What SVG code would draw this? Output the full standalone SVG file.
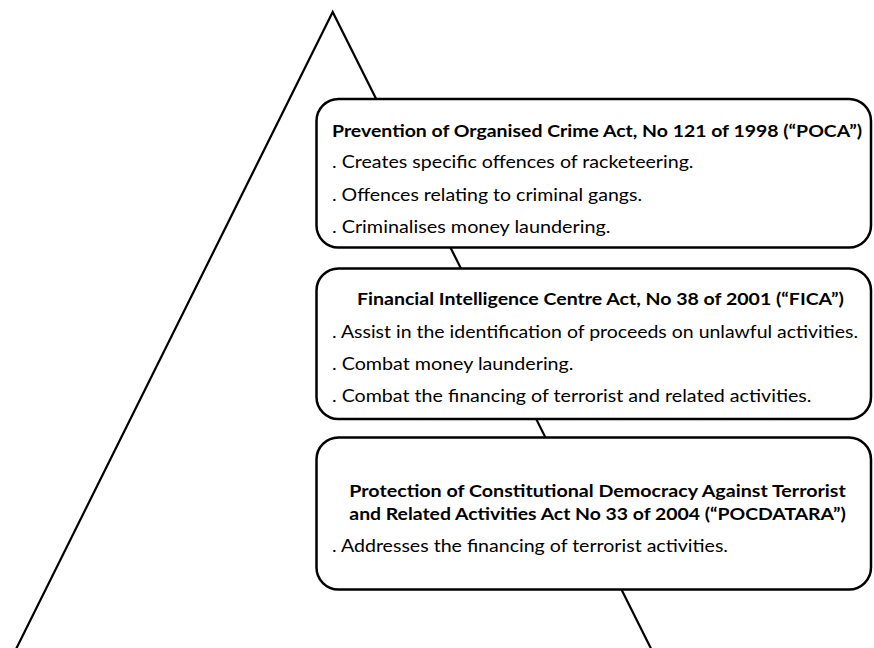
<svg xmlns="http://www.w3.org/2000/svg" width="874" height="648" viewBox="0 0 874 648">
  <style>
    .box { fill: #ffffff; stroke: #000000; stroke-width: 2.5; }
    .tri { fill: none; stroke: #000000; stroke-width: 2.2; stroke-linejoin: miter; }
    text { font-family: Lato, "Liberation Sans", "DejaVu Sans", sans-serif; fill: #000000; }
    .title { font-size: 17px; font-weight: bold; }
    .body { font-size: 17px; }
  </style>
  <rect width="874" height="648" fill="#ffffff"/>
  <g id="pyramid">
    <path class="tri" d="M10.6,660 L332.7,12 L656.7,660"/>
  </g>
  <g id="poca">
    <rect class="box" x="316.5" y="99" width="554.5" height="148.5" rx="22" ry="22"/>
    <text class="title" x="332" y="137" textLength="530" lengthAdjust="spacingAndGlyphs">Prevention of Organised Crime Act, No 121 of 1998 (“POCA”)</text>
    <text class="body" x="332" y="168" textLength="361.5" lengthAdjust="spacingAndGlyphs">. Creates specific offences of racketeering.</text>
    <text class="body" x="332" y="201" textLength="310" lengthAdjust="spacingAndGlyphs">. Offences relating to criminal gangs.</text>
    <text class="body" x="332" y="233" textLength="278.5" lengthAdjust="spacingAndGlyphs">. Criminalises money laundering.</text>
  </g>
  <g id="fica">
    <rect class="box" x="316.5" y="268.5" width="554.5" height="150.5" rx="22" ry="22"/>
    <text class="title" x="357" y="305" textLength="487" lengthAdjust="spacingAndGlyphs">Financial Intelligence Centre Act, No 38 of 2001 (“FICA”)</text>
    <text class="body" x="332" y="338" textLength="526" lengthAdjust="spacingAndGlyphs">. Assist in the identification of proceeds on unlawful activities.</text>
    <text class="body" x="332" y="370" textLength="241.5" lengthAdjust="spacingAndGlyphs">. Combat money laundering.</text>
    <text class="body" x="332" y="402" textLength="479.5" lengthAdjust="spacingAndGlyphs">. Combat the financing of terrorist and related activities.</text>
  </g>
  <g id="pocdatara">
    <rect class="box" x="316.5" y="437.5" width="554.5" height="152" rx="22" ry="22"/>
    <text class="title" x="349.3" y="497" textLength="496.5" lengthAdjust="spacingAndGlyphs">Protection of Constitutional Democracy Against Terrorist</text>
    <text class="title" x="349.3" y="519.5" textLength="496.5" lengthAdjust="spacingAndGlyphs">and Related Activities Act No 33 of 2004 (“POCDATARA”)</text>
    <text class="body" x="332" y="552" textLength="396" lengthAdjust="spacingAndGlyphs">. Addresses the financing of terrorist activities.</text>
  </g>
</svg>
